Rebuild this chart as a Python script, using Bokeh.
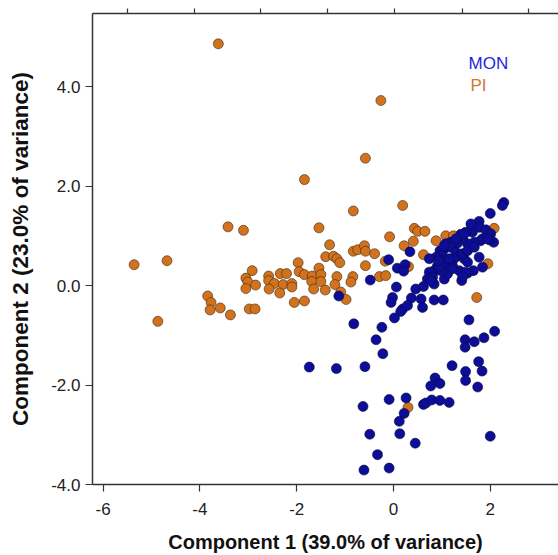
from bokeh.plotting import figure
from bokeh.models import LinearAxis, FixedTicker, Label, ColumnDataSource
from bokeh.embed import file_html
from bokeh.resources import INLINE

# PI group (orange)
pi_x = [-3.62, -0.26, -0.58, -1.84, -0.83, 0.19, -3.42, -3.10, -1.54, -0.08,
        -1.32, -0.83, -0.74, -0.60, -0.58, -0.39, -5.36, -4.68, -1.97, -1.40,
        -1.24, -1.17, -1.11, -0.58, -0.17, -2.92, -1.95, -1.84, -1.68, -1.54,
        -1.50, -1.17, -0.84, -2.34, -2.21, -2.58, -3.05, -0.29, -0.16, -3.01,
        -3.05, -2.85, -2.58, -2.46, -2.28, -2.10, -2.10, -2.57, -2.35, -1.69,
        -1.65, -1.50, -1.41, -1.21, -0.88, -1.09, -0.98, -3.84, -3.77, -3.79,
        -3.58, -3.37, -2.98, -2.86, -2.05, -1.84, -4.87, 0.43, 0.50, 0.65,
        0.41, 0.88, 1.08, 1.24, 0.22, 0.62, 0.31, 2.08, 1.95, 1.72, 0.30]
pi_y = [4.86, 3.72, 2.56, 2.13, 1.50, 1.61, 1.18, 1.11, 1.16, 0.98,
        0.82, 0.69, 0.72, 0.80, 0.69, 0.64, 0.42, 0.50, 0.46, 0.58,
        0.59, 0.54, 0.46, 0.40, 0.49, 0.30, 0.28, 0.22, 0.19, 0.35,
        0.22, 0.18, 0.18, 0.24, 0.24, 0.19, 0.15, 0.18, 0.20, 0.07,
        -0.06, 0.01, 0.10, 0.04, 0.02, 0.04, -0.03, -0.07, -0.15, 0.08,
        -0.07, 0.08, -0.09, 0.02, 0.07, -0.13, -0.28, -0.21, -0.34, -0.49,
        -0.45, -0.59, -0.47, -0.47, -0.34, -0.31, -0.72, 1.15, 1.09, 1.09,
        0.89, 0.90, 1.00, 1.00, 0.80, 0.62, 0.38, 1.15, 0.44, -0.24, -2.45]

# MON group (blue)
mon_x = [2.28, 2.25, 2.00, 1.77, 1.62, 1.78, 1.63, 1.49, 1.39, 1.91,
         2.01, 2.07, 1.98, 1.80, 1.67, 1.53, 1.43, 1.32, 1.18, 1.08,
         1.05, 0.96, 1.01, 1.18, 1.29, 1.36, 1.25, 1.46, 1.53, 1.77,
         1.84, 1.65, 1.53, 1.41, 1.36, 1.22, 1.12, 1.01, 0.91, 0.84,
         0.74, 0.81, 0.70, 1.05, 1.12, 0.98, 0.88, 0.74, 1.60, 1.46,
         1.29, 1.05, 1.15, 1.43, 1.53, 1.67, 1.84, 1.94, 1.49, 1.43,
         1.22, 0.94, 0.84, 0.94, 0.77, 0.34, -0.10, 0.08, 0.24, 0.21,
         -0.48, -1.13, 0.06, 0.46, 0.62, 0.37, 0.57, 0.60, 0.84, 1.03,
         0.19, 0.29, 0.15, -0.02, -0.05, 0.02, -0.82, -0.24, 1.56, 2.09,
         -0.36, -0.22, -1.74, -1.18, -0.59, 1.48, 1.67, 1.87, 1.48, 1.21,
         1.76, 1.83, 1.49, 1.49, 1.74, 0.86, 0.77, 0.96, 0.62, 0.67,
         0.79, 0.96, 1.15, -0.09, 0.26, 0.22, 0.12, 0.13, 0.45, -0.63,
         -0.49, -0.33, -0.61, -0.09, 2.00]
mon_y = [1.67, 1.61, 1.45, 1.29, 1.21, 1.17, 1.07, 1.07, 1.03, 1.12,
         1.04, 0.87, 0.92, 0.90, 0.87, 0.84, 0.94, 0.85, 0.87, 0.84,
         0.74, 0.70, 0.60, 0.77, 0.67, 0.60, 0.54, 0.54, 0.47, 0.57,
         0.37, 0.30, 0.25, 0.10, 0.30, 0.40, 0.37, 0.47, 0.40, 0.30,
         0.27, 0.17, 0.13, 0.13, 0.24, 0.30, 0.57, 0.54, 1.24, 1.04,
         0.94, 0.80, 0.54, 0.64, 0.70, 0.77, 0.94, 0.94, 0.27, 0.18,
         0.34, 0.37, 0.03, 0.50, 0.10, 0.68, 0.52, 0.35, 0.42, 0.29,
         0.11, -0.21, -0.03, -0.07, -0.02, -0.25, -0.27, -0.44, -0.29, -0.29,
         -0.47, -0.40, -0.52, -0.24, -0.34, -0.65, -0.77, -0.84, -0.69, -0.92,
         -1.09, -1.37, -1.64, -1.67, -1.63, -1.09, -1.13, -1.05, -1.24, -1.61,
         -1.53, -1.72, -1.73, -1.91, -2.04, -1.86, -2.02, -1.97, -2.39, -2.36,
         -2.30, -2.31, -2.35, -2.29, -2.26, -2.57, -2.73, -2.98, -3.17, -2.43,
         -2.99, -3.40, -3.71, -3.67, -3.03]

x_ticks = [-6, -4, -2, 0, 2]
y_ticks = [-4.0, -2.0, 0.0, 2.0, 4.0]
top_ticks = [-5.49, -4.11, -2.74, -1.36, 0.03, 1.42, 2.79]
group_names = ["MON", "PI"]

FONT = "Liberation Sans"
AX = "#333333"

p = figure(width=558, height=555, x_range=(-6.22, 3.41), y_range=(-4.0, 5.47),
           output_backend="svg", toolbar_location=None,
           min_border_left=92, min_border_right=0, min_border_top=13,
           min_border_bottom=71, background_fill_color="white",
           border_fill_color="white")
p.outline_line_color = None
p.grid.visible = False

for ax in (p.xaxis[0], p.yaxis[0]):
    ax.axis_line_color = AX
    ax.axis_line_width = 1.5
    ax.major_tick_line_color = AX
    ax.major_tick_line_width = 1.2
    ax.major_tick_out = 7
    ax.major_tick_in = 0
    ax.minor_tick_line_color = None
    ax.major_label_text_font = FONT
    ax.major_label_text_font_size = "17px"
    ax.major_label_text_color = "#222222"
    ax.axis_label_text_font = FONT
    ax.axis_label_text_font_style = "bold"
    ax.axis_label_text_color = "#111111"

p.xaxis.ticker = FixedTicker(ticks=x_ticks)
p.yaxis.ticker = FixedTicker(ticks=y_ticks)
p.yaxis.major_label_overrides = {t: f"{t:.1f}" for t in y_ticks}
p.xaxis.major_label_overrides = {t: str(t) for t in x_ticks}
p.xaxis.axis_label = "Component 1 (39.0% of variance)"
p.yaxis.axis_label = "Component 2 (23.0% of variance)"
p.xaxis.axis_label_text_font_size = "20px"
p.yaxis.axis_label_text_font_size = "22.5px"
p.xaxis.major_label_standoff = 11
p.xaxis.axis_label_standoff = 13
p.yaxis.major_label_standoff = 5
p.yaxis.axis_label_standoff = 15

top = LinearAxis(ticker=FixedTicker(ticks=top_ticks))
top.axis_line_color = AX
top.axis_line_width = 1.5
top.major_tick_line_color = AX
top.major_tick_line_width = 1.2
top.major_tick_out = 5
top.major_tick_in = 0
top.minor_tick_line_color = None
top.major_label_text_font_size = "1px"
top.major_label_text_color = None
top.major_label_standoff = 0
p.add_layout(top, "above")

pi_src = ColumnDataSource(dict(x=pi_x, y=pi_y))
mon_src = ColumnDataSource(dict(x=mon_x, y=mon_y))
p.scatter("x", "y", source=pi_src, size=10, fill_color="#d2721c",
          line_color="#3a2a1a", line_width=0.6)
p.scatter("x", "y", source=mon_src, size=10, fill_color="#0d0d98",
          line_color="#0a0a40", line_width=0.6)

p.add_layout(Label(x=376, y=412, x_units="screen", y_units="screen",
                   text=group_names[0], text_color="#1f1fe0",
                   text_font=FONT, text_font_size="17px"))
p.add_layout(Label(x=378, y=390, x_units="screen", y_units="screen",
                   text=group_names[1], text_color="#d07a30",
                   text_font=FONT, text_font_size="17px"))

open("out.html", "w").write(file_html(p, INLINE))
